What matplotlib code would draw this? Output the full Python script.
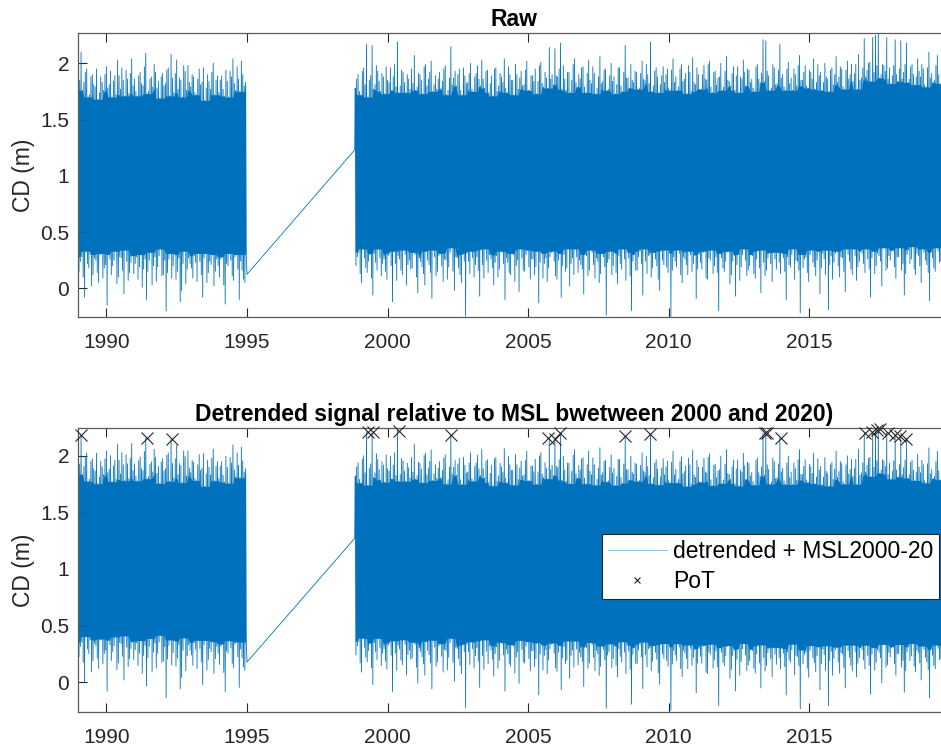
import numpy as np
import matplotlib
matplotlib.use('Agg')
import matplotlib.pyplot as plt
from matplotlib.ticker import FixedLocator, FuncFormatter

# ---------------- data ----------------
step = 0.1  # years between successive listed cycles (4 turning points each)

# Segment A: 1989.0 - 1995.0 (raw water level, cm)
seg_a_start = 1989.0
hi_a_cm = [198, 210, 183, 195, 172, 190, 179, 168, 188, 176,
           197, 181, 170, 189, 203, 177, 185, 194, 173, 204,
           186, 171, 192, 180, 209, 175, 188, 199, 178, 169,
           191, 182, 196, 208, 174, 203, 187, 170, 193, 198,
           179, 188, 172, 195, 183, 167, 190, 177, 200, 185,
           174, 189, 171, 184, 193, 204, 176, 186, 202, 180]
lo_a_cm = [15, 28, -8, 22, 30, 12, 25, 5, 31, 18,
           -15, 26, 20, 33, 10, 27, -5, 24, 14, 29,
           22, 8, 30, 17, -10, 25, 3, 28, 19, 35,
           12, -20, 26, 9, 30, 15, -12, 22, 4, 27,
           18, 29, 6, 24, -8, 31, 14, 21, 2, 26,
           10, 28, -14, 20, 25, 7, 30, -10, 16, 5]
hi2_a_cm = [185, 176, 192, 170, 188, 181, 195, 174, 183, 190,
            178, 193, 184, 172, 189, 196, 171, 186, 191, 180,
            175, 189, 182, 197, 173, 186, 179, 192, 184, 188,
            180, 194, 171, 187, 191, 177, 185, 198, 176, 183,
            190, 174, 186, 181, 196, 178, 184, 192, 172, 189,
            185, 177, 194, 170, 188, 182, 197, 175, 190, 183]
lo2_a_cm = [24, 10, 33, 18, 2, 27, 14, 30, 9, 21,
            30, 12, 25, 4, 28, 16, 34, 7, 23, 13,
            28, 19, 1, 26, 15, 32, 20, 6, 29, 11,
            25, 14, 31, 20, 8, 27, -2, 33, 17, 22,
            9, 23, 31, 12, 27, 5, 24, 30, 15, 20,
            26, 3, 22, 31, 11, 28, 17, 24, 8, 30]
a_end_year = 1995.0
a_end_value = 0.124

# Segment B: 1998.83 - 2020.0 (raw water level, cm)
b_start_year = 1998.83
b_start_value = 1.23
seg_b_start = 1998.85
hi_b_cm = [178, 190, 172, 196, 217, 185, 216, 181, 193, 175,
           188, 197, 183, 176, 199, 219, 180, 192, 174, 186,
           195, 207, 179, 190, 173, 199, 186, 202, 181, 177,
           192, 184, 198, 176, 215, 187, 180, 195, 172, 189,
           183, 200, 175, 191, 186, 203, 178, 194, 182, 171,
           196, 180, 188, 204, 174, 190, 185, 199, 177, 193,
           181, 202, 176, 189, 195, 184, 201, 179, 187, 214,
           190, 213, 188, 218, 198, 176, 192, 185, 204, 179,
           186, 197, 174, 203, 182, 191, 178, 206, 184, 195,
           177, 200, 188, 181, 196, 175, 216, 187, 199, 183,
           192, 178, 202, 185, 190, 219, 180, 196, 174, 189,
           183, 195, 176, 204, 188, 179, 199, 186, 173, 192,
           205, 181, 190, 177, 198, 185, 202, 174, 193, 187,
           200, 179, 206, 184, 191, 176, 197, 188, 203, 180,
           194, 186, 175, 199, 183, 221, 220, 189, 178, 196,
           182, 217, 190, 176, 201, 187, 195, 180, 207, 185,
           198, 178, 192, 204, 183, 189, 176, 200, 186, 194,
           181, 206, 188, 195, 177, 202, 190, 184, 199, 208,
           187, 222, 194, 201, 223, 225, 226, 190, 198, 223,
           196, 189, 221, 184, 220, 192, 218, 186, 199, 181,
           204, 188, 195, 179, 210, 191, 185, 207, 182, 198,
           190, 203]
lo_b_cm = [20, 32, 5, 27, 14, 30, -6, 23, 35, 11,
           26, 8, 31, -12, 22, 29, 16, 34, 3, 25,
           18, 30, -4, 24, 13, 33, 21, -9, 28, 15,
           31, 6, 25, 19, 36, -2, 27, 12, 30, -25,
           24, 33, 10, 28, -7, 21, 35, 14, 26, 3,
           29, 17, 32, -10, 23, 12, 30, 20, -3, 27,
           15, 34, 8, 26, 19, -13, 31, 22, 6, 28,
           33, 11, 25, -8, 30, 18, 2, 27, 35, 14,
           21, -5, 29, 16, 32, 9, 24, 13, 28, -24,
           26, 12, 31, 4, 22, 35, 7, 27, -20, 30,
           16, 33, -6, 24, 29, 10, 32, 20, -2, 25,
           34, 14, -25, 28, 19, 31, 5, 26, 12, 30,
           22, -9, 30, 17, 33, 8, 25, 13, 28, -20,
           27, 15, 32, 4, 24, -7, 30, 19, 35, 11,
           20, 29, 9, 33, -4, 23, 16, 31, 6, 26,
           32, 13, 27, -10, 21, 30, 8, 24, -22, 18,
           28, 6, 34, 19, 25, -5, 31, 12, -19, 29,
           23, 33, 10, 27, -3, 30, 17, 35, 7, 24,
           31, 14, 26, -8, 33, 20, 29, 2, 36, 18,
           25, 34, 9, 28, 16, -6, 30, 22, 37, 12,
           29, 5, 32, 21, -11, 27, 15, 33, 24, 8,
           30, -22]
hi2_b_cm = [186, 175, 193, 181, 170, 189, 177, 198, 184, 191,
            173, 185, 196, 188, 179, 174, 194, 183, 190, 177,
            182, 176, 191, 185, 197, 180, 192, 175, 189, 186,
            178, 195, 172, 187, 181, 193, 190, 176, 196, 182,
            191, 177, 188, 198, 180, 186, 193, 174, 189, 195,
            175, 191, 183, 178, 197, 185, 172, 190, 187, 180,
            194, 176, 189, 184, 173, 198, 182, 192, 178, 186,
            181, 189, 195, 177, 186, 192, 174, 199, 183, 190,
            196, 179, 191, 185, 197, 173, 188, 182, 194, 176,
            189, 184, 173, 196, 180, 192, 187, 178, 185, 193,
            177, 191, 186, 199, 182, 175, 193, 188, 181, 197,
            190, 178, 194, 183, 176, 195, 184, 191, 198, 175,
            183, 196, 177, 190, 186, 199, 179, 192, 181, 188,
            176, 193, 185, 180, 197, 189, 174, 186, 192, 195,
            183, 178, 197, 186, 191, 184, 193, 176, 199, 181,
            194, 187, 179, 195, 182, 176, 190, 198, 185, 192,
            180, 194, 186, 177, 199, 192, 183, 188, 175, 196,
            190, 183, 197, 179, 194, 186, 199, 191, 177, 185,
            196, 188, 200, 184, 192, 198, 187, 199, 193, 186,
            182, 198, 190, 195, 186, 199, 183, 197, 190, 188,
            193, 199, 181, 196, 187, 183, 198, 190, 194, 185,
            197, 188]
lo2_b_cm = [28, 13, 35, 18, 24, 9, 31, 16, 27, 22,
            15, 29, 20, 33, 7, 26, 12, 30, 21, 17,
            32, 10, 27, 19, 3, 25, 14, 34, 11, 29,
            20, 26, 8, 32, 15, 28, 18, 5, 24, 31,
            13, 27, 21, 16, 34, 9, 25, 30, 18, 23,
            10, 33, 22, 27, 14, 31, 6, 25, 35, 16,
            30, 19, 26, 12, 33, 23, 9, 27, 18, 32,
            24, 8, 31, 20, 15, 35, 22, 12, 28, 25,
            17, 30, 11, 34, 21, 27, 5, 31, 19, 23,
            33, 20, 14, 29, 17, 26, 32, 11, 24, 16,
            28, 22, 35, 13, 30, 18, 26, 8, 33, 21,
            19, 31, 16, 24, 34, 12, 28, 21, 33, 15,
            29, 17, 23, 32, 9, 27, 34, 20, 14, 31,
            18, 24, 33, 12, 29, 21, 7, 30, 25, 16,
            30, 13, 26, 18, 34, 11, 27, 22, 32, 17,
            23, 31, 15, 28, 19, 35, 25, 16, 30, 26,
            14, 30, 23, 11, 33, 18, 26, 34, 21, 8,
            31, 20, 28, 15, 35, 24, 12, 29, 19, 33,
            22, 35, 17, 27, 13, 31, 24, 36, 16, 29,
            33, 19, 28, 36, 22, 13, 34, 26, 17, 31,
            20, 35, 25, 14, 32, 18, 36, 23, 29, 30,
            16, 28]

# linear trend removed for the detrended panel (m/yr, reference year)
trend_rate = 0.0035
trend_ref_year = 2010.5

# Peaks over threshold (detrended panel)
pot_years = [1989.08, 1991.45, 1992.35, 1999.31, 1999.49, 2000.41, 2002.24,
             2005.71, 2005.95, 2006.13, 2008.44, 2009.33, 2013.42, 2013.50,
             2014.00, 2016.97, 2017.21, 2017.39, 2017.50, 2017.80, 2018.04,
             2018.21, 2018.45]
pot_values = [2.18, 2.16, 2.15, 2.21, 2.21, 2.22, 2.18,
              2.16, 2.15, 2.20, 2.17, 2.19, 2.20, 2.20,
              2.16, 2.20, 2.21, 2.23, 2.24, 2.20, 2.18,
              2.17, 2.15]

xticks = [1990, 1995, 2000, 2005, 2010, 2015]
yticks = [0, 0.5, 1, 1.5, 2]
x_range = [1988.98, 2020.0]
ylim_raw = [-0.258, 2.267]
ylim_det = [-0.265, 2.242]

line_label = 'detrended + MSL2000-20'
pot_label = 'PoT'
title_raw = 'Raw'
title_det = 'Detrended signal relative to MSL bwetween 2000 and 2020)'
ylabel = 'CD (m)'

# ---------------- build series ----------------
def zigzag(t0, hi_cm, lo_cm, hi2_cm, lo2_cm, win=3):
    hi = np.asarray(hi_cm) / 100.0
    lo = np.asarray(lo_cm) / 100.0
    hi2 = np.asarray(hi2_cm) / 100.0
    lo2 = np.asarray(lo2_cm) / 100.0
    n = len(hi)
    tb = t0 + step * np.arange(n)
    t = np.empty(4 * n)
    v = np.empty(4 * n)
    for k, arr in enumerate([hi, lo, hi2, lo2]):
        t[k::4] = tb + k * step / 4
        v[k::4] = arr
    # dense core: the range every tidal cycle sweeps through (neighbouring peaks)
    highs = v[0::2]
    lows = v[1::2]
    th = t[0::2]
    hp = np.pad(highs, win, mode='edge')
    lp = np.pad(lows, win, mode='edge')
    m = len(highs)
    core_top = np.min([hp[k:k + m] for k in range(2 * win + 1)], axis=0)
    core_bot = np.max([lp[k:k + m] for k in range(2 * win + 1)], axis=0)
    return t, v, th, core_bot, core_top

ta, va, tca, cba, cta = zigzag(seg_a_start, hi_a_cm, lo_a_cm, hi2_a_cm, lo2_a_cm)
tb_, vb, tcb, cbb, ctb = zigzag(seg_b_start, hi_b_cm, lo_b_cm, hi2_b_cm, lo2_b_cm)
t_all = np.concatenate([ta, [a_end_year, b_start_year], tb_])
raw = np.concatenate([va, [a_end_value, b_start_value], vb])

def trend(t):
    return trend_rate * (np.asarray(t) - trend_ref_year)

detr = raw - trend(t_all)

# ---------------- plot ----------------
plt.rcParams['font.family'] = ['Liberation Sans', 'DejaVu Sans']
plt.rcParams['font.size'] = 15

fig = plt.figure(figsize=(9.41, 7.49), dpi=100)
W, H = 941.0, 749.0
left_px, right_px = 77.7, 950.0
ax1 = fig.add_axes([left_px / W, 1 - 317.3 / H, (right_px - left_px) / W, 284.0 / H])
ax2 = fig.add_axes([left_px / W, 1 - 712.3 / H, (right_px - left_px) / W, 284.0 / H])

blue = '#0072BD'
axcol = '#262626'
for ax, y, yl, ttl, detrend in [(ax1, raw, ylim_raw, title_raw, False),
                                (ax2, detr, ylim_det, title_det, True)]:
    for tc, cb, ct in [(tca, cba, cta), (tcb, cbb, ctb)]:
        off = trend(tc) if detrend else 0.0
        ax.fill_between(tc, cb - off, ct - off, color=blue, lw=0, zorder=1)
    ax.plot(t_all, y, color=blue, lw=0.6, label=line_label, zorder=2)
    ax.set_xlim(x_range)
    ax.set_ylim(yl)
    ax.xaxis.set_major_locator(FixedLocator(xticks))
    ax.yaxis.set_major_locator(FixedLocator(yticks))
    ax.yaxis.set_major_formatter(FuncFormatter(lambda v, p: '%g' % v))
    ax.tick_params(direction='in', length=6.5, width=0.8, color=axcol,
                   labelcolor=axcol, top=True, right=True, labelsize=15)
    ax.tick_params(axis='x', pad=11)
    ax.tick_params(axis='y', pad=6)
    for s in ax.spines.values():
        s.set_color('#5a5a5a')
        s.set_linewidth(0.9)
    ax.set_ylabel(ylabel, color=axcol, fontsize=16.5, labelpad=4)
    ax.set_title(ttl, fontweight='bold', fontsize=16.5, pad=5, color='black')

ax2.plot(pot_years, pot_values, linestyle='none', marker='x', ms=8, mew=0.8,
         color='#262626', label=pot_label, clip_on=False, zorder=5)

leg = ax2.legend(loc='upper right', bbox_to_anchor=((939 - left_px) / (right_px - left_px),
                 (712.3 - 534.3) / 284.0), borderaxespad=0, fontsize=16.5,
                 fancybox=False, framealpha=1, edgecolor='#262626',
                 handlelength=2.6, handletextpad=0.25, borderpad=0.25,
                 labelspacing=0.3, markerscale=0.6)
leg.get_frame().set_linewidth(0.8)
leg.get_lines()[0].set_color('#80b9e0')

fig.savefig('out.png', dpi=100)
